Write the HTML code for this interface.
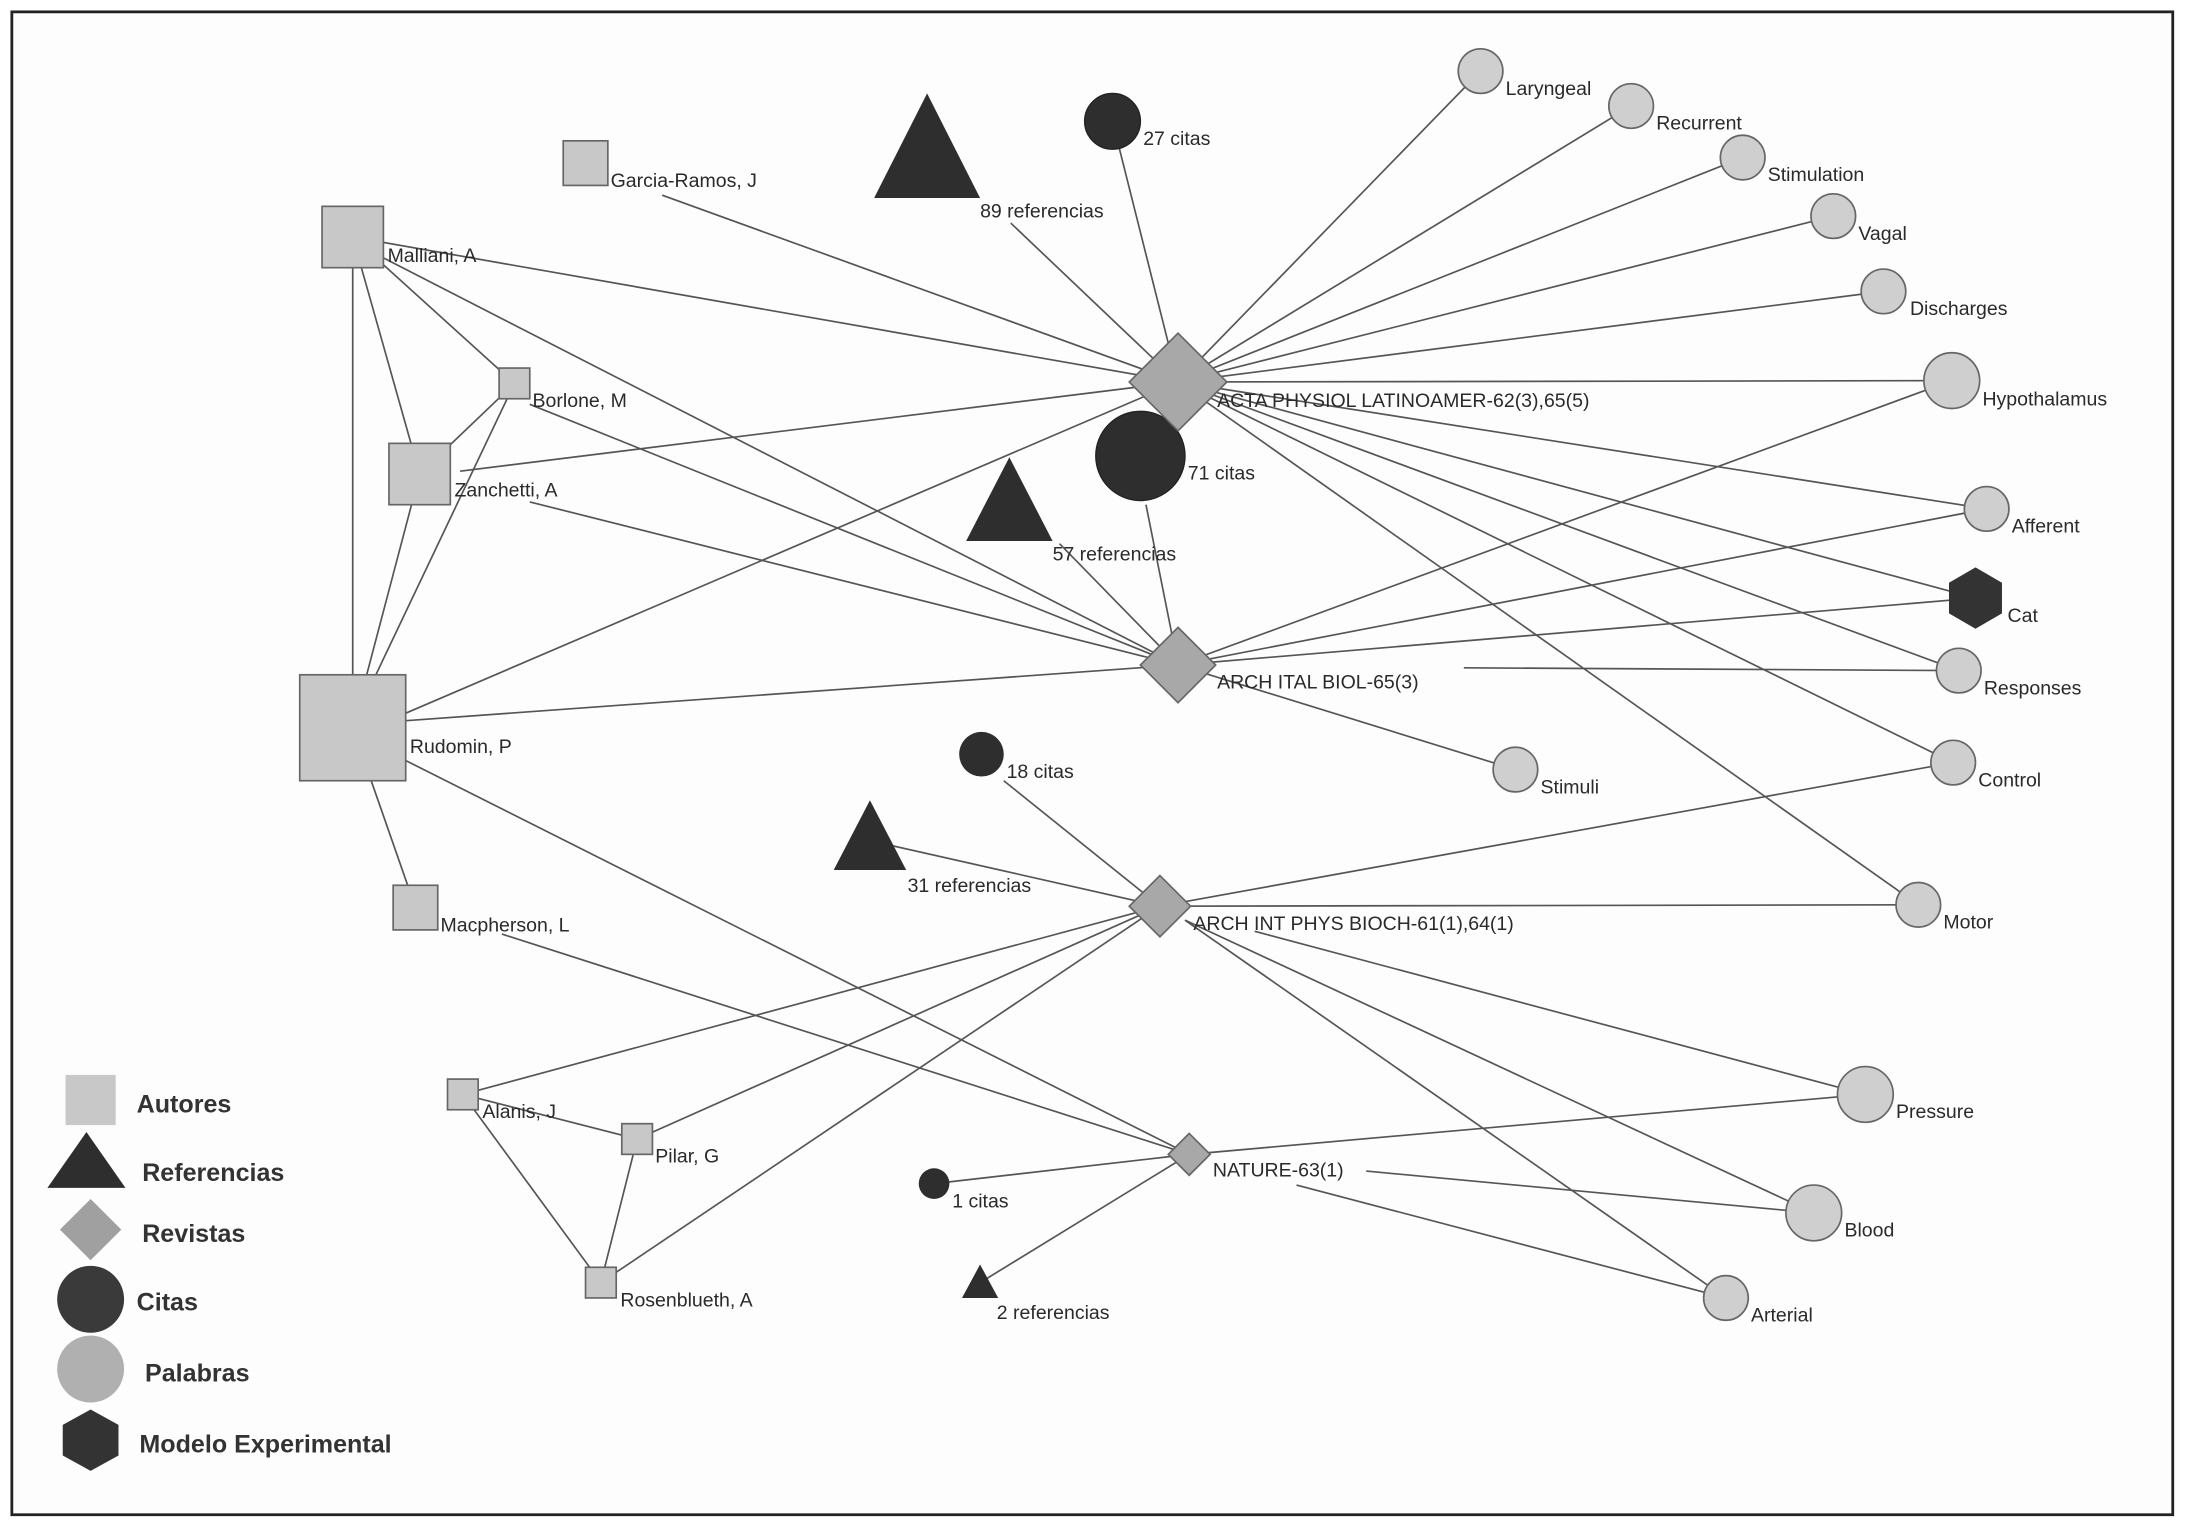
<!DOCTYPE html>
<html><head><meta charset="utf-8"><style>
html,body{margin:0;padding:0;background:#fff;}
svg{display:block;}
text{font-family:"Liberation Sans",sans-serif;font-size:14px;fill:#2a2a2a;}
.lg{font-size:18px;font-weight:bold;fill:#333;}
</style></head><body>
<svg width="2186" height="1528" viewBox="0 0 1568 1096" xmlns="http://www.w3.org/2000/svg">
<rect x="0" y="0" width="1568" height="1096" fill="#fff"/>
<rect x="8.5" y="8.5" width="1550" height="1078" fill="#fdfdfd" stroke="#222" stroke-width="2"/>
<g stroke="#555" stroke-width="1.2">
<!-- ACTA -->
<line x1="845" y1="274" x2="253" y2="170"/><line x1="845" y1="274" x2="475" y2="140"/>
<line x1="845" y1="274" x2="725" y2="160"/><line x1="845" y1="274" x2="798" y2="87"/>
<line x1="845" y1="274" x2="330" y2="338"/><line x1="845" y1="274" x2="290" y2="512"/>
<line x1="845" y1="274" x2="1062" y2="51"/><line x1="845" y1="274" x2="1170" y2="76"/>
<line x1="845" y1="274" x2="1250" y2="113"/><line x1="845" y1="274" x2="1315" y2="155"/>
<line x1="845" y1="274" x2="1351" y2="209"/><line x1="845" y1="274" x2="1400" y2="273"/>
<line x1="845" y1="274" x2="1425" y2="365"/><line x1="845" y1="274" x2="1417" y2="429"/>
<line x1="845" y1="274" x2="1405" y2="481"/><line x1="845" y1="274" x2="1401" y2="547"/>
<line x1="845" y1="274" x2="1376" y2="649"/>
<!-- ARCH ITAL -->
<line x1="845" y1="477" x2="275" y2="185"/><line x1="845" y1="477" x2="380" y2="290"/>
<line x1="845" y1="477" x2="380" y2="360"/><line x1="845" y1="477" x2="290" y2="517"/>
<line x1="845" y1="477" x2="822" y2="362"/><line x1="845" y1="477" x2="760" y2="390"/>
<line x1="845" y1="477" x2="1400" y2="273"/><line x1="845" y1="477" x2="1425" y2="365"/>
<line x1="845" y1="477" x2="1417" y2="429"/><line x1="1050" y1="479" x2="1405" y2="481"/>
<line x1="845" y1="477" x2="1087" y2="552"/>
<!-- ARCH INT -->
<line x1="832" y1="650" x2="720" y2="560"/><line x1="832" y1="650" x2="624" y2="603"/>
<line x1="832" y1="650" x2="1401" y2="547"/><line x1="832" y1="650" x2="1376" y2="649"/>
<line x1="832" y1="650" x2="332" y2="785"/><line x1="832" y1="650" x2="457" y2="817"/>
<line x1="832" y1="650" x2="431" y2="920"/><line x1="900" y1="668" x2="1338" y2="785"/>
<line x1="850" y1="660" x2="1301" y2="870"/><line x1="850" y1="660" x2="1238" y2="931"/>
<!-- NATURE -->
<line x1="853" y1="828" x2="290" y2="545"/><line x1="853" y1="828" x2="360" y2="670"/>
<line x1="853" y1="828" x2="1338" y2="785"/><line x1="980" y1="840" x2="1301" y2="870"/>
<line x1="930" y1="850" x2="1238" y2="931"/><line x1="853" y1="828" x2="670" y2="849"/>
<line x1="853" y1="828" x2="703" y2="920"/>
<!-- authors -->
<line x1="253" y1="170" x2="253" y2="522"/><line x1="253" y1="170" x2="301" y2="340"/>
<line x1="253" y1="170" x2="369" y2="275"/><line x1="369" y1="275" x2="301" y2="340"/>
<line x1="369" y1="275" x2="262" y2="500"/><line x1="301" y1="340" x2="253" y2="522"/>
<line x1="253" y1="522" x2="298" y2="651"/>
<line x1="332" y1="785" x2="457" y2="817"/><line x1="332" y1="785" x2="431" y2="920"/>
<line x1="457" y1="817" x2="431" y2="920"/>
</g>
<g fill="#c8c8c8" stroke="#666" stroke-width="1.2">
<rect x="404" y="101" width="32" height="32"/>
<rect x="231" y="148" width="44" height="44"/>
<rect x="358" y="264" width="22" height="22"/>
<rect x="279" y="318" width="44" height="44"/>
<rect x="215" y="484" width="76" height="76"/>
<rect x="282" y="635" width="32" height="32"/>
<rect x="321" y="774" width="22" height="22"/>
<rect x="446" y="806" width="22" height="22"/>
<rect x="420" y="909" width="22" height="22"/>
</g>
<g fill="#2e2e2e">
<polygon points="665,67 703,142 627,142"/>
<polygon points="724,328 755,388 693,388"/>
<polygon points="624,574 650,624 598,624"/>
<polygon points="703,907 716,931 690,931"/>
<circle cx="798" cy="87" r="20" stroke="#222"/>
<circle cx="818" cy="327" r="32" stroke="#222"/>
<circle cx="704" cy="541" r="16"/>
<circle cx="670" cy="849" r="11"/>
</g>
<g fill="#a8a8a8" stroke="#666" stroke-width="1.2">
<polygon points="845,239 880,274 845,309 810,274"/>
<polygon points="845,450 872,477 845,504 818,477"/>
<polygon points="832,628 854,650 832,672 810,650"/>
<polygon points="853,813 868,828 853,843 838,828"/>
</g>
<g fill="#cfcfcf" stroke="#666" stroke-width="1.2">
<circle cx="1062" cy="51" r="16"/><circle cx="1170" cy="76" r="16"/>
<circle cx="1250" cy="113" r="16"/><circle cx="1315" cy="155" r="16"/>
<circle cx="1351" cy="209" r="16"/><circle cx="1400" cy="273" r="20"/>
<circle cx="1425" cy="365" r="16"/><circle cx="1405" cy="481" r="16"/>
<circle cx="1087" cy="552" r="16"/><circle cx="1401" cy="547" r="16"/>
<circle cx="1376" cy="649" r="16"/><circle cx="1338" cy="785" r="20"/>
<circle cx="1301" cy="870" r="20"/><circle cx="1238" cy="931" r="16"/>
</g>
<polygon points="1417,407 1436,418 1436,440 1417,451 1398,440 1398,418" fill="#333"/>
<g>
<text x="438" y="134">Garcia-Ramos, J</text>
<text x="278" y="188">Malliani, A</text>
<text x="382" y="292">Borlone, M</text>
<text x="326" y="356">Zanchetti, A</text>
<text x="294" y="540">Rudomin, P</text>
<text x="316" y="668">Macpherson, L</text>
<text x="346" y="802">Alanis, J</text>
<text x="470" y="834">Pilar, G</text>
<text x="445" y="937">Rosenblueth, A</text>
<text x="703" y="156">89 referencias</text>
<text x="820" y="104">27 citas</text>
<text x="852" y="344">71 citas</text>
<text x="755" y="402">57 referencias</text>
<text x="722" y="558">18 citas</text>
<text x="651" y="640">31 referencias</text>
<text x="683" y="866">1 citas</text>
<text x="715" y="946">2 referencias</text>
<text x="873" y="292">ACTA PHYSIOL LATINOAMER-62(3),65(5)</text>
<text x="873" y="494">ARCH ITAL BIOL-65(3)</text>
<text x="856" y="667">ARCH INT PHYS BIOCH-61(1),64(1)</text>
<text x="870" y="844">NATURE-63(1)</text>
<text x="1080" y="68">Laryngeal</text>
<text x="1188" y="93">Recurrent</text>
<text x="1268" y="130">Stimulation</text>
<text x="1333" y="172">Vagal</text>
<text x="1370" y="226">Discharges</text>
<text x="1422" y="291">Hypothalamus</text>
<text x="1443" y="382">Afferent</text>
<text x="1440" y="446">Cat</text>
<text x="1423" y="498">Responses</text>
<text x="1105" y="569">Stimuli</text>
<text x="1419" y="564">Control</text>
<text x="1394" y="666">Motor</text>
<text x="1360" y="802">Pressure</text>
<text x="1323" y="887">Blood</text>
<text x="1256" y="948">Arterial</text>
</g>
<rect x="47" y="771" width="36" height="36" fill="#c8c8c8"/>
<polygon points="62,812 90,852 34,852" fill="#2e2e2e"/>
<polygon points="65,860 87,882 65,904 43,882" fill="#a0a0a0"/>
<circle cx="65" cy="932" r="24" fill="#3a3a3a"/>
<circle cx="65" cy="982" r="24" fill="#b0b0b0"/>
<polygon points="65,1011 85,1022 85,1044 65,1055 45,1044 45,1022" fill="#333"/>
<text class="lg" x="98" y="798">Autores</text>
<text class="lg" x="102" y="847">Referencias</text>
<text class="lg" x="102" y="891">Revistas</text>
<text class="lg" x="98" y="940">Citas</text>
<text class="lg" x="104" y="991">Palabras</text>
<text class="lg" x="100" y="1042">Modelo Experimental</text>
</svg>
</body></html>
